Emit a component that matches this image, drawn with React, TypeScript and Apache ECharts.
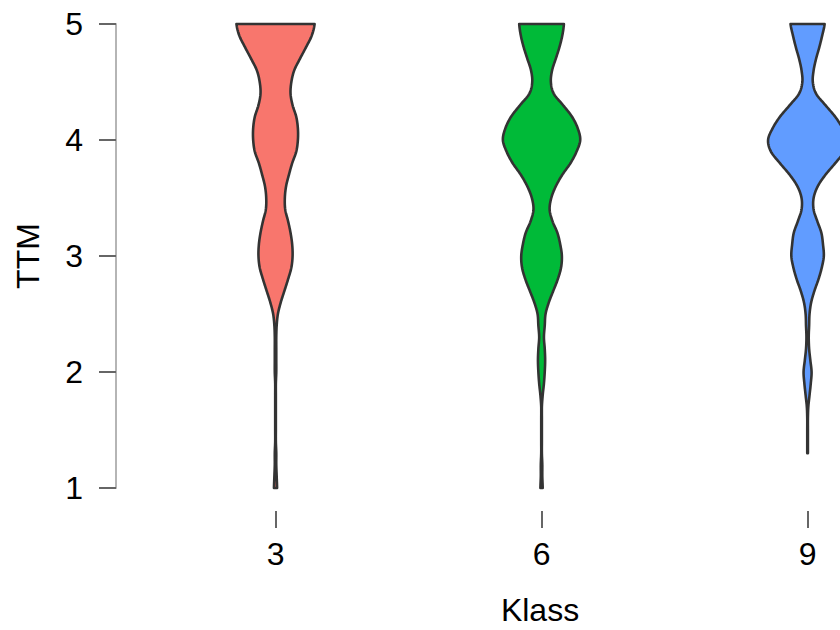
import { useEffect, useRef } from "react";
import * as echarts from "echarts";

// TTM levels at which the violin outlines are read (top to bottom)
const TTM_LEVELS = [
  5.0, 4.9, 4.8, 4.7, 4.6, 4.5, 4.4, 4.3, 4.2, 4.1, 4.0, 3.9, 3.8, 3.7, 3.6, 3.5, 3.4, 3.3, 3.2, 3.1, 3.0,
  2.9, 2.8, 2.7, 2.6, 2.5, 2.4, 2.3, 2.2, 2.1, 2.0, 1.9, 1.8, 1.7, 1.6, 1.5, 1.4, 1.3, 1.2, 1.1, 1.0,
];

const KLASS = [3, 6, 9];
const KLASS_LABELS = ["3", "6", "9"];

// relative density (violin half-width, 1 = widest) per Klass
const DENSITY_3 = [
  0.99, 0.92, 0.78, 0.63, 0.49, 0.42, 0.4, 0.45, 0.54, 0.58, 0.58, 0.54, 0.44, 0.36, 0.29, 0.26, 0.27, 0.34, 0.4, 0.44, 0.45,
  0.42, 0.34, 0.25, 0.16, 0.09, 0.06, 0.05, 0.05, 0.05, 0.05, 0.04, 0.04, 0.04, 0.04, 0.04, 0.04, 0.05, 0.05, 0.06, 0.07,
];
const DENSITY_6 = [
  0.58, 0.54, 0.47, 0.38, 0.29, 0.26, 0.33, 0.56, 0.78, 0.92, 0.98, 0.89, 0.74, 0.54, 0.38, 0.27, 0.23, 0.3, 0.42, 0.49, 0.53,
  0.51, 0.43, 0.32, 0.21, 0.13, 0.11, 0.09, 0.11, 0.12, 0.11, 0.09, 0.06, 0.04, 0.04, 0.04, 0.04, 0.04, 0.05, 0.05, 0.06,
];
const DENSITY_9 = [
  0.45, 0.39, 0.32, 0.24, 0.18, 0.16, 0.24, 0.47, 0.71, 0.89, 1.0, 0.93, 0.71, 0.47, 0.28, 0.18, 0.18, 0.27, 0.37, 0.41, 0.43,
  0.38, 0.3, 0.2, 0.12, 0.08, 0.07, 0.06, 0.07, 0.1, 0.13, 0.11, 0.08, 0.05, 0.04, 0.04, 0.04, 0.04, null, null, null,
];

const Y_MIN = 1;
const Y_MAX = 5;

const COLORS = ["#F8766D", "#00BA38", "#619CFF"];
const STROKE = 2.6;
const HALF_WIDTH = 0.46; // x-axis units for density 1
const FONT = "'Liberation Sans', Arial, Helvetica, sans-serif";

function makeRender(gx: number, dens: (number | null)[], color: string) {
  return (_params: any, api: any) => {
    const ys: number[] = [];
    const hs: number[] = [];
    for (let i = 0; i < TTM_LEVELS.length; i++) {
      const d = dens[i];
      if (d == null) continue;
      const c = api.coord([gx, TTM_LEVELS[i]]);
      const e = api.coord([gx + d * HALF_WIDTH, TTM_LEVELS[i]]);
      ys.push(c[1]);
      hs.push(Math.max(e[0] - c[0] - STROKE / 2, 0.3));
    }
    const cx = api.coord([gx, 3])[0];
    const n = ys.length;
    const STEPS = 10;
    const dense: [number, number][] = [];
    for (let i = 0; i < n - 1; i++) {
      const h0 = hs[Math.max(i - 1, 0)];
      const h1 = hs[i];
      const h2 = hs[i + 1];
      const h3 = hs[Math.min(i + 2, n - 1)];
      for (let s = 0; s < STEPS; s++) {
        const t = s / STEPS;
        const h =
          0.5 *
          (2 * h1 +
            (-h0 + h2) * t +
            (2 * h0 - 5 * h1 + 4 * h2 - h3) * t * t +
            (-h0 + 3 * h1 - 3 * h2 + h3) * t * t * t);
        const y = ys[i] + (ys[i + 1] - ys[i]) * t;
        dense.push([Math.max(h, 0.3), y]);
      }
    }
    dense.push([hs[n - 1], ys[n - 1]]);
    const right = dense.map(([h, y]) => [cx + h, y]);
    const left = dense
      .slice()
      .reverse()
      .map(([h, y]) => [cx - h, y]);
    return {
      type: "polygon",
      shape: { points: right.concat(left) },
      style: { fill: color, stroke: "#333333", lineWidth: STROKE, lineJoin: "round" },
    };
  };
}

export default function App() {
  const ref = useRef<HTMLDivElement>(null);
  useEffect(() => {
    if (!ref.current) return;
    const chart = echarts.init(ref.current, undefined, { renderer: "svg" });
    const densities = [DENSITY_3, DENSITY_6, DENSITY_9];
    chart.setOption({
      animation: false,
      backgroundColor: "#ffffff",
      grid: {
        left: 116,
        right: -124,
        top: 24,
        bottom: 142,
        containLabel: false,
        outerBoundsMode: "none",
      },
      xAxis: {
        type: "value",
        min: 1.201,
        max: 10.764,
        offset: 23,
        name: "Klass",
        nameLocation: "middle",
        nameGap: 86,
        nameTextStyle: { fontSize: 32, lineHeight: 26, color: "#000", fontFamily: FONT },
        axisLine: { show: false },
        splitLine: { show: false },
        axisTick: {
          show: true,
          customValues: KLASS,
          length: 17,
          lineStyle: { color: "#333", width: 1.5 },
        },
        axisLabel: {
          customValues: KLASS,
          formatter: (v: number) => KLASS_LABELS[KLASS.indexOf(v)] ?? String(v),
          fontSize: 32,
          color: "#000",
          fontFamily: FONT,
          margin: 27,
        },
      },
      yAxis: {
        type: "value",
        min: Y_MIN,
        max: Y_MAX,
        interval: 1,
        name: "TTM",
        nameLocation: "middle",
        nameGap: 72,
        nameTextStyle: { fontSize: 32, color: "#000", fontFamily: FONT },
        axisLine: { show: true, lineStyle: { color: "#b5b5b5", width: 2 } },
        splitLine: { show: false },
        axisTick: { show: true, length: 17, lineStyle: { color: "#666", width: 2 } },
        axisLabel: { fontSize: 32, color: "#000", fontFamily: FONT, margin: 33 },
      },
      series: KLASS.map((gx, i) => ({
        type: "custom",
        coordinateSystem: "cartesian2d",
        clip: false,
        data: [[gx, 3]],
        renderItem: makeRender(gx, densities[i], COLORS[i]),
        silent: true,
      })),
    });
    return () => chart.dispose();
  }, []);
  return (
    <div
      ref={ref}
      style={{ position: "absolute", left: 0, top: 0, width: 840, height: 630 }}
    />
  );
}
